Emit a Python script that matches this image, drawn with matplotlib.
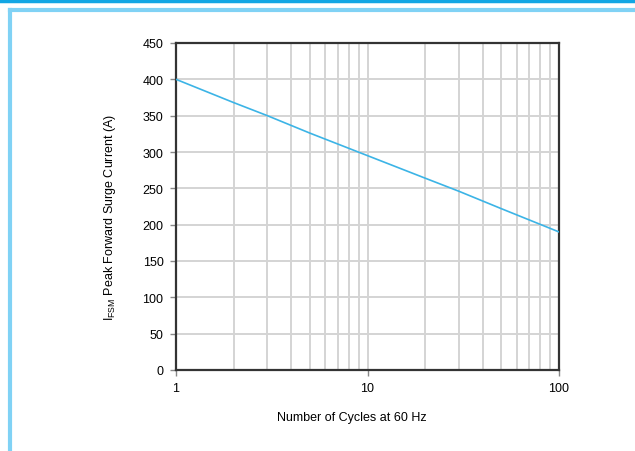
import matplotlib
matplotlib.use('Agg')
from matplotlib import pyplot as plt
from matplotlib.lines import Line2D
from matplotlib.ticker import LogLocator, NullFormatter, FixedLocator

cycles = [1, 2, 3, 5, 10, 20, 30, 50, 100]
current = [400, 368, 350, 326, 295, 264, 246, 222, 190]
y_ticks = [0, 50, 100, 150, 200, 250, 300, 350, 400, 450]
x_ticks = [1, 10, 100]
x_tick_labels = ['1', '10', '100']

plt.rcParams['font.family'] = ['Liberation Sans', 'DejaVu Sans']

fig = plt.figure(figsize=(6.35, 4.52), dpi=100)
ax = fig.add_axes([176 / 635, 1 - 371 / 452, 383 / 635, 327 / 452])

ax.plot(cycles, current, color='#3cb4e6', lw=1.2, zorder=3)
ax.set_xscale('log')
ax.set_xlim(1, 100)
ax.set_ylim(0, 450)

ax.xaxis.set_major_locator(FixedLocator(x_ticks))
ax.set_xticklabels(x_tick_labels)
ax.xaxis.set_minor_locator(LogLocator(base=10, subs=range(2, 10)))
ax.xaxis.set_minor_formatter(NullFormatter())
ax.set_yticks(y_ticks)

ax.grid(True, which='both', color='#d4d4d4', lw=1.4)
ax.set_axisbelow(True)
ax.tick_params(which='major', direction='out', length=4, width=1, color='#888888',
               labelsize=9, pad=5)
ax.tick_params(which='minor', length=0)
for s in ax.spines.values():
    s.set_color('#333333')
    s.set_linewidth(1.6)

ax.set_xlabel('Number of Cycles at 60 Hz', fontsize=9)
ax.set_ylabel(r'$\mathregular{I_{FSM}}$ Peak Forward Surge Current (A)', fontsize=9)
ax.xaxis.set_label_coords(0.46, -0.125)
ax.yaxis.set_label_coords(-0.152, 0.47)

# blue frame around the figure
fig.add_artist(Line2D([0, 1], [1 - 1.5 / 452, 1 - 1.5 / 452], color='#12a6e4', lw=2.5,
                      transform=fig.transFigure))
fig.add_artist(Line2D([10 / 635, 1], [1 - 10.5 / 452, 1 - 10.5 / 452], color='#80d2f5', lw=3,
                      transform=fig.transFigure))
fig.add_artist(Line2D([10 / 635, 10 / 635], [0, 1 - 10.5 / 452], color='#80d2f5', lw=3,
                      transform=fig.transFigure))

fig.savefig('out.png', dpi=100)
